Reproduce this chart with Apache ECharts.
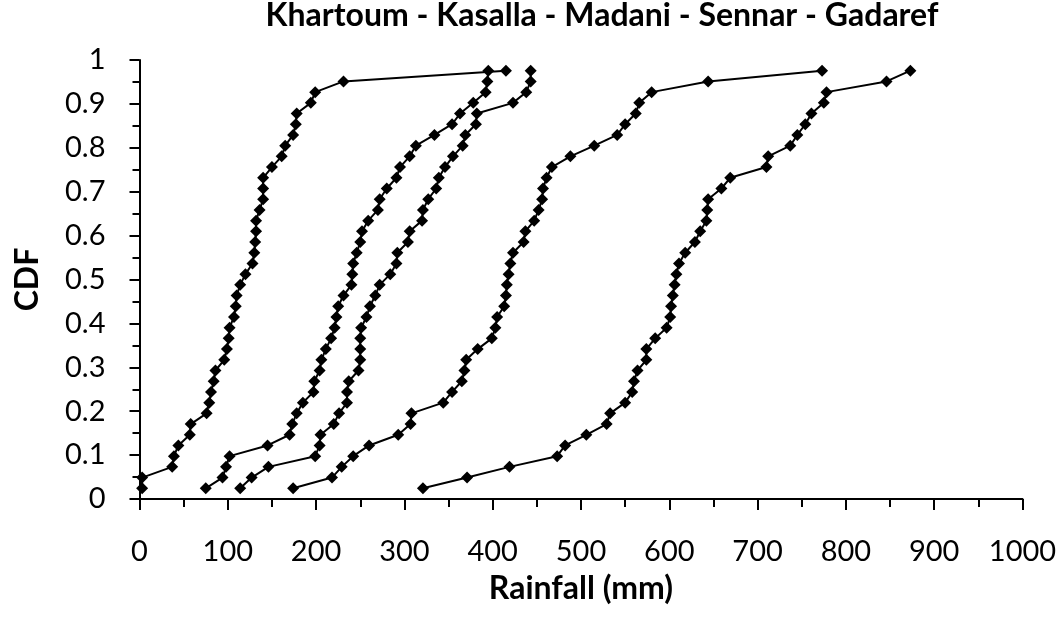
<!DOCTYPE html>
<html>
<head>
<meta charset="utf-8">
<script src="https://cdn.jsdelivr.net/npm/echarts@6/dist/echarts.min.js"></script>
<style>
  html, body { margin: 0; padding: 0; background: #fff; }
  #main { width: 1063px; height: 632px; }
</style>
</head>
<body>
<div id="main"></div>
<script>
// CDF plotting positions (rank / 41)
var cdf = [0.0244, 0.0488, 0.0732, 0.0976, 0.1220, 0.1463, 0.1707, 0.1951, 0.2195, 0.2439,
           0.2683, 0.2927, 0.3171, 0.3415, 0.3659, 0.3902, 0.4146, 0.4390, 0.4634, 0.4878,
           0.5122, 0.5366, 0.5610, 0.5854, 0.6098, 0.6341, 0.6585, 0.6829, 0.7073, 0.7317,
           0.7561, 0.7805, 0.8049, 0.8293, 0.8537, 0.8780, 0.9024, 0.9268, 0.9512, 0.9756];

// sorted rainfall (mm)
var khartoum = [3, 3, 37, 39, 44, 57, 58, 76, 79, 81,
                84, 86, 96, 99, 101, 102, 107, 109, 110, 114,
                120, 128, 130, 131, 132, 132, 136, 140, 140, 140,
                150, 161, 165, 174, 177, 178, 194, 199, 231, 415];
var kasalla = [75, 94, 98, 102, 145, 170, 173, 178, 185, 197,
               198, 204, 206, 211, 217, 221, 223, 225, 231, 240,
               241, 242, 246, 250, 252, 259, 270, 272, 280, 291,
               295, 306, 313, 334, 354, 363, 378, 392, 394, 395];
var madani = [114, 127, 146, 199, 204, 205, 220, 226, 235, 235,
              237, 248, 250, 250, 250, 251, 257, 261, 267, 272,
              284, 291, 292, 304, 306, 320, 321, 327, 336, 339,
              346, 355, 366, 369, 381, 382, 423, 438, 443, 443];
var sennar = [174, 218, 229, 242, 260, 293, 307, 308, 344, 354,
              365, 368, 370, 383, 399, 403, 405, 413, 415, 416,
              418, 420, 423, 435, 437, 447, 452, 456, 457, 461,
              467, 488, 515, 541, 550, 562, 566, 580, 644, 773];
var gadaref = [321, 371, 419, 473, 482, 506, 529, 533, 550, 558,
               560, 564, 574, 574, 584, 597, 601, 602, 604, 606,
               608, 611, 618, 629, 635, 642, 643, 644, 659, 669,
               710, 712, 737, 745, 754, 761, 775, 778, 846, 873];

var stations = ['Khartoum', 'Kasalla', 'Madani', 'Sennar', 'Gadaref'];
var rain = [khartoum, kasalla, madani, sennar, gadaref];

var FONT = 'Lato, "Open Sans", sans-serif';

function pairs(xs) {
    var out = [];
    for (var i = 0; i < xs.length; i++) out.push([xs[i], cdf[i]]);
    return out;
}

var series = [];
for (var s = 0; s < stations.length; s++) {
    series.push({
        name: stations[s],
        type: 'line',
        data: pairs(rain[s]),
        symbol: 'diamond',
        symbolSize: 12,
        showSymbol: true,
        animation: false,
        itemStyle: { color: '#000' },
        lineStyle: { color: '#000', width: 2 }
    });
}

var myChart = echarts.init(document.getElementById('main'));

var option = {
    backgroundColor: '#fff',
    title: {
        text: 'Khartoum - Kasalla - Madani - Sennar - Gadaref',
        left: 602,
        top: 0,
        padding: 0,
        textAlign: 'center',
        textStyle: { fontFamily: FONT, fontWeight: 'bold', fontSize: 32, color: '#000' }
    },
    grid: {
        left: 139.5,
        right: 40.5,
        top: 60,
        bottom: 133,
        containLabel: false,
        outerBoundsMode: 'none'
    },
    xAxis: {
        type: 'value',
        min: 0,
        max: 1000,
        interval: 100,
        name: 'Rainfall (mm)',
        nameLocation: 'middle',
        nameGap: 74,
        nameTextStyle: { fontFamily: FONT, fontWeight: 'bold', fontSize: 32, color: '#000' },
        axisLine: { lineStyle: { color: '#000', width: 2 } },
        axisTick: { show: true, length: 11, inside: false, lineStyle: { color: '#000', width: 2 } },
        minorTick: { show: true, splitNumber: 2, length: 8, lineStyle: { color: '#000', width: 2 } },
        axisLabel: {
            fontFamily: FONT, fontSize: 29, color: '#000', margin: 38,
            formatter: function (v) { return String(v); }
        },
        splitLine: { show: false }
    },
    yAxis: {
        type: 'value',
        min: 0,
        max: 1,
        interval: 0.1,
        name: 'CDF',
        nameLocation: 'middle',
        nameRotate: 90,
        nameGap: 96,
        nameTextStyle: { fontFamily: FONT, fontWeight: 'bold', fontSize: 32, color: '#000' },
        axisLine: { lineStyle: { color: '#000', width: 2 } },
        axisTick: { show: true, length: 10, inside: false, lineStyle: { color: '#000', width: 2 } },
        minorTick: { show: true, splitNumber: 2, length: 7, lineStyle: { color: '#000', width: 2 } },
        axisLabel: {
            fontFamily: FONT, fontSize: 29, color: '#000', margin: 34,
            formatter: function (v) { return String(Math.round(v * 10) / 10); }
        },
        splitLine: { show: false }
    },
    series: series
};

myChart.setOption(option);
</script>
</body>
</html>
